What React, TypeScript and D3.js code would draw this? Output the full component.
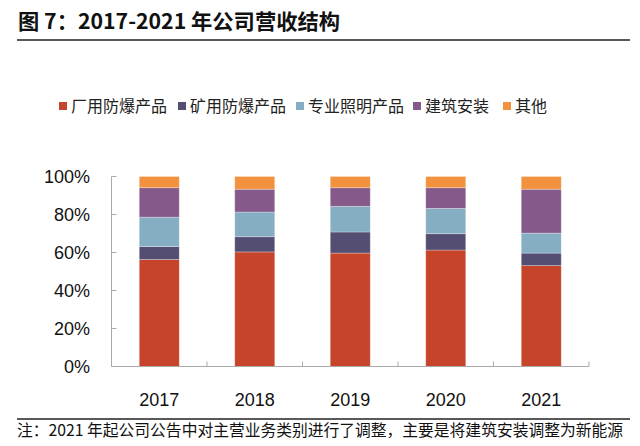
import React from "react";
import * as d3 from "d3";

const years = ["2017", "2018", "2019", "2020", "2021"];
const seriesNames = ["厂用防爆产品", "矿用防爆产品", "专业照明产品", "建筑安装", "其他"];
const seriesColors = ["#C6442A", "#544F72", "#86AEC2", "#855A8A", "#F3923E"];
const factory = [56.3, 60.3, 59.7, 61.3, 53.1];
const mine = [6.8, 8.0, 11.1, 8.6, 6.6];
const lighting = [15.5, 13.0, 13.5, 13.3, 10.5];
const construction = [15.5, 12.0, 9.8, 10.9, 23.1];
const other = [5.9, 6.7, 5.9, 5.9, 6.7];
const yTicks = [0, 20, 40, 60, 80, 100];

const title = "图 7：2017-2021 年公司营收结构";
const note = "注：2021 年起公司公告中对主营业务类别进行了调整，主要是将建筑安装调整为新能源";

export default function App() {
  const W = 640, H = 446;
  const left = 111.5, right = 589, top = 176.5, bottom = 366.5;
  const x = d3.scaleBand<string>().domain(years).range([left, right]).paddingInner(0).paddingOuter(0);
  const y = d3.scaleLinear().domain([0, 100]).range([bottom, top]);
  const barW = 40;
  const seriesData = [factory, mine, lighting, construction, other];
  const table = years.map((yr, i) => {
    const row: any = { year: yr };
    seriesNames.forEach((s, j) => (row[s] = seriesData[j][i]));
    return row;
  });
  const stack = d3.stack<any>().keys(seriesNames)(table);
  const num = "'Liberation Sans', Arial, sans-serif";
  const cjk = "'Noto Sans CJK SC', sans-serif";
  const legendX = [59, 178, 296, 413, 503];

  return (
    <svg width={W} height={H} style={{ position: "absolute", left: 0, top: 0, background: "#fff" }}>
      <text x={18} y={29} fontFamily={cjk} fontWeight={700} fontSize={21} fill="#111" textLength={322} lengthAdjust="spacingAndGlyphs">{title}</text>
      <line x1={17} x2={630} y1={40} y2={40} stroke="#222" strokeWidth={1.5} />

      {seriesNames.map((s, i) => (
        <g key={s}>
          <rect x={legendX[i]} y={102} width={8} height={8} fill={seriesColors[i]} />
          <text x={legendX[i] + 12} y={112} fontFamily={cjk} fontSize={16} fill="#222">{s}</text>
        </g>
      ))}

      {stack.map((layer, j) => (
        <g key={layer.key}>
          {layer.map((d, i) => (
            <rect
              key={i}
              x={(x(years[i]) as number) + x.bandwidth() / 2 - barW / 2}
              y={y(d[1])}
              width={barW}
              height={y(d[0]) - y(d[1])}
              fill={seriesColors[j]}
              stroke="#fff"
              strokeOpacity={0.35}
              strokeWidth={0.8}
            />
          ))}
        </g>
      ))}

      <line x1={left} x2={left} y1={top} y2={bottom} stroke="#aaa" strokeWidth={1} />
      {yTicks.map((t) => (
        <g key={t}>
          <line x1={left} x2={left + 5} y1={y(t)} y2={y(t)} stroke="#aaa" />
          <text x={90} y={y(t) + 6} textAnchor="end" fontFamily={num} fontSize={18} fill="#111">{t}%</text>
        </g>
      ))}
      <line x1={left} x2={right} y1={bottom} y2={bottom} stroke="#aaa" strokeWidth={1} />
      {years.map((yr) => (
        <line key={"t" + yr} x1={(x(yr) as number) + x.bandwidth()} x2={(x(yr) as number) + x.bandwidth()} y1={bottom - 5} y2={bottom} stroke="#aaa" />
      ))}
      {years.map((yr) => (
        <text key={yr} x={(x(yr) as number) + x.bandwidth() / 2} y={405.5} textAnchor="middle" fontFamily={num} fontSize={18} fill="#111">{yr}</text>
      ))}

      <line x1={17} x2={630} y1={419} y2={419} stroke="#222" strokeWidth={1.5} />
      <text x={17} y={436} fontFamily={cjk} fontSize={16} fill="#111" textLength={606} lengthAdjust="spacingAndGlyphs">{note}</text>
    </svg>
  );
}
